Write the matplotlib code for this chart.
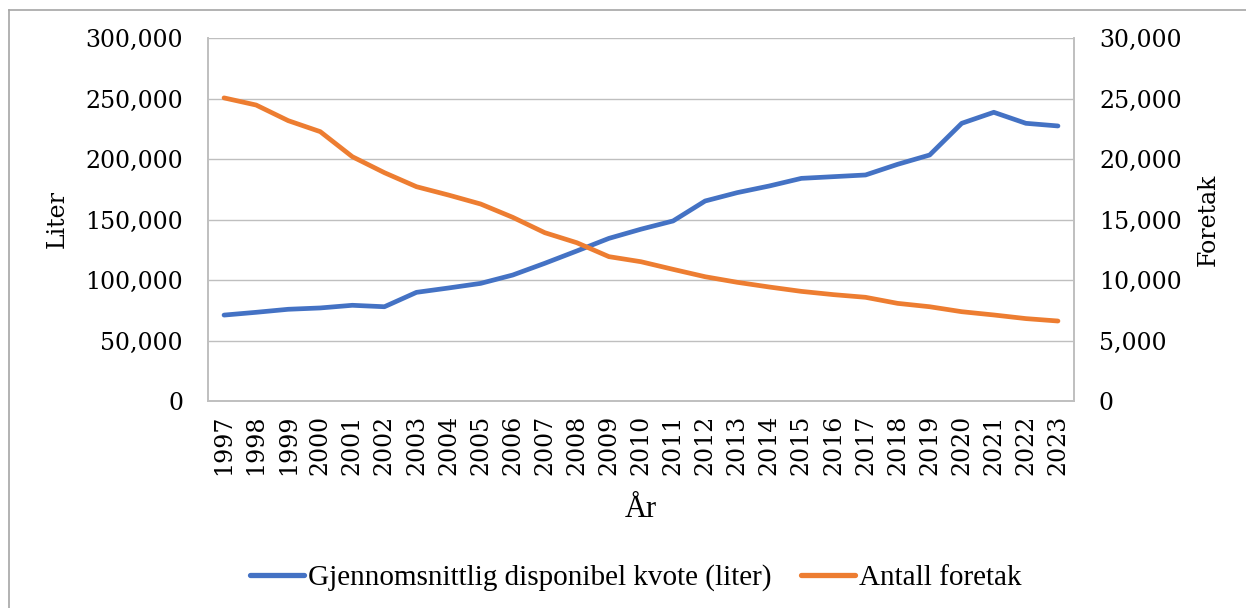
import numpy as np
import matplotlib
matplotlib.use("Agg")
import matplotlib.pyplot as plt
from matplotlib.lines import Line2D
from matplotlib.ticker import FuncFormatter

years = list(range(1997, 2024))
kvote = [71000, 73300, 75800, 76900, 79100, 77900, 89800, 93400, 97200, 104100,
         113800, 124000, 134400, 142000, 148800, 165300, 172200, 177700, 184000,
         185400, 186800, 195600, 203300, 229500, 238600, 229500, 227300]
foretak = [25050, 24460, 23170, 22260, 20190, 18870, 17710, 17020, 16280, 15180,
           13910, 13080, 11930, 11510, 10880, 10270, 9810, 9420, 9060,
           8790, 8570, 8070, 7790, 7380, 7110, 6810, 6610]

BLUE = "#4472C4"
ORANGE = "#ED7D31"
GRID = "#BFBFBF"
TEXT_FONT = "Liberation Serif"

plt.rcParams.update({
    "font.family": "DejaVu Serif",
    "text.color": "black",
    "xtick.color": "black", "ytick.color": "black",
})

W, H = 1246, 608
fig = plt.figure(figsize=(W / 100, H / 100), dpi=100)
ax = fig.add_axes([208 / W, 1 - 401 / H, (1074 - 208) / W, (401 - 38) / H])
ax2 = ax.twinx()

x = np.arange(len(years))
ax.plot(x, kvote, color=BLUE, lw=3.4, solid_capstyle="round", solid_joinstyle="round",
        zorder=3)
ax2.plot(x, foretak, color=ORANGE, lw=3.4, solid_capstyle="round", solid_joinstyle="round",
         zorder=3)

ax.set_xlim(-0.5, len(years) - 0.5)
ax.set_ylim(0, 300000)
ax2.set_ylim(0, 30000)
ax.set_yticks(np.arange(0, 300001, 50000))
ax2.set_yticks(np.arange(0, 30001, 5000))
fmt = FuncFormatter(lambda v, p: f"{int(v):,}")
ax.yaxis.set_major_formatter(fmt)
ax2.yaxis.set_major_formatter(fmt)
ax.grid(axis="y", color=GRID, lw=1.0, zorder=0)
ax.set_axisbelow(True)

ax.set_xticks(x)
ax.set_xticklabels([str(y) for y in years], rotation=90)
for a in (ax, ax2):
    a.tick_params(length=0, labelsize=17, pad=18)
    for s in a.spines.values():
        s.set_color(GRID)
        s.set_linewidth(1.2)
    a.spines["top"].set_visible(False)
ax.tick_params(axis="x", pad=10)

ax.set_ylabel("Liter", fontsize=17, labelpad=12)
ax2.set_ylabel("Foretak", fontsize=17, labelpad=11)
ax.set_xlabel("År", fontsize=22, fontfamily=TEXT_FONT, labelpad=14)

handles = [Line2D([0], [0], color=BLUE, lw=3.8, solid_capstyle="round"),
           Line2D([0], [0], color=ORANGE, lw=3.8, solid_capstyle="round")]
fig.legend(handles, ["Gjennomsnittlig disponibel kvote (liter)", "Antall foretak"],
           loc="center", bbox_to_anchor=(0.51, 1 - 578 / H), ncol=2, frameon=False,
           prop={"family": TEXT_FONT, "size": 21}, handlelength=1.85,
           handletextpad=0.15, columnspacing=1.0)

# outer chart frame (top and left edges visible)
fig.add_artist(Line2D([9 / W, 1], [1 - 10 / H, 1 - 10 / H], color="#A6A6A6", lw=1.2,
                      transform=fig.transFigure))
fig.add_artist(Line2D([9 / W, 9 / W], [0, 1 - 10 / H], color="#A6A6A6", lw=1.2,
                      transform=fig.transFigure))

fig.savefig("out.png", dpi=100)
